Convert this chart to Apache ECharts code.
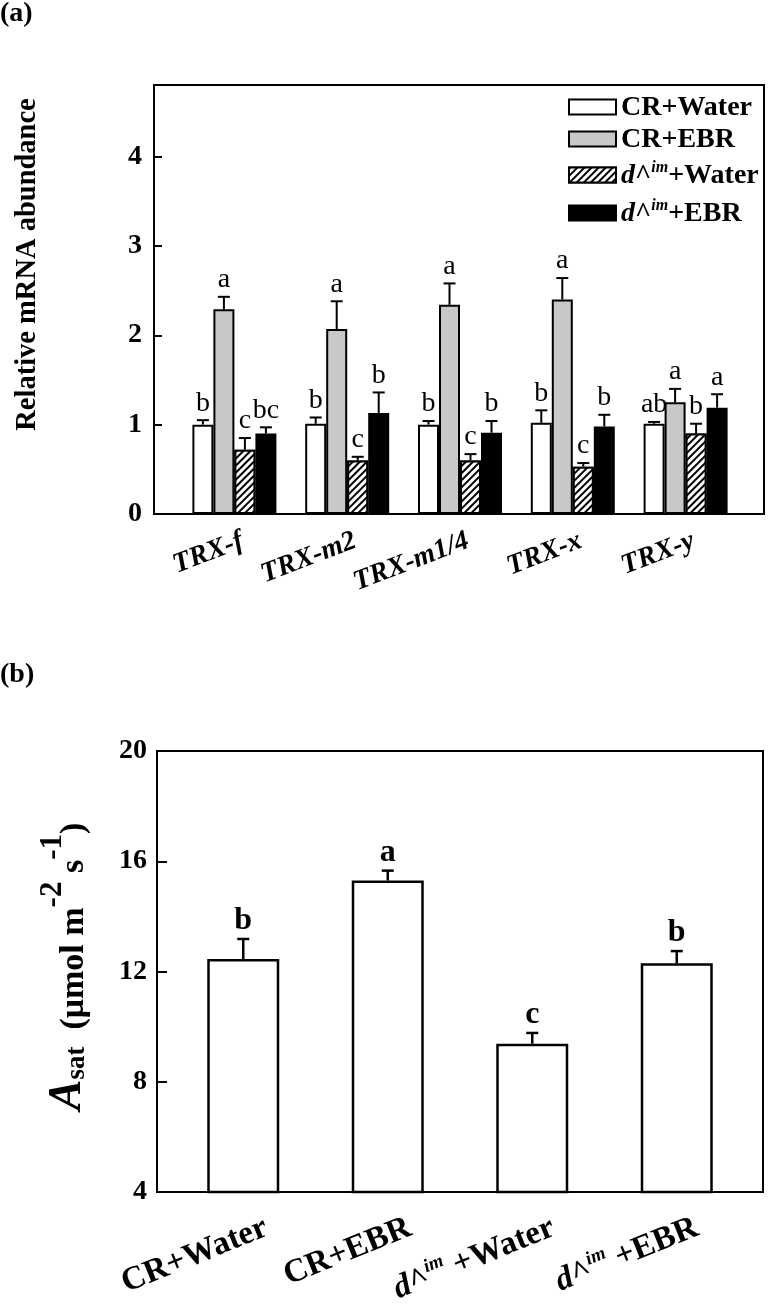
<!DOCTYPE html>
<html>
<head>
<meta charset="utf-8">
<script src="https://cdn.jsdelivr.net/npm/echarts@6/dist/echarts.min.js"></script>
<style>html,body{margin:0;padding:0;background:#fff}#c{width:768px;height:1307px}</style>
</head>
<body>
<div id="c"></div>
<script>
// ---------- Panel (a) data ----------
const catsA = ['TRX-f', 'TRX-m2', 'TRX-m1/4', 'TRX-x', 'TRX-y'];
const seriesNamesA = ['CR+Water', 'CR+EBR', 'd^im+Water', 'd^im+EBR'];
const crWaterA = [1.00, 1.01, 1.00, 1.02, 1.01];
const crWaterErrA = [0.05, 0.07, 0.04, 0.14, 0.02];
const crEbrA = [2.29, 2.07, 2.34, 2.40, 1.25];
const crEbrErrA = [0.14, 0.31, 0.24, 0.24, 0.15];
const dWaterA = [0.72, 0.60, 0.60, 0.53, 0.90];
const dWaterErrA = [0.13, 0.04, 0.07, 0.04, 0.11];
const dEbrA = [0.90, 1.13, 0.91, 0.98, 1.19];
const dEbrErrA = [0.07, 0.23, 0.13, 0.13, 0.15];
const crWaterLetA = ['b', 'b', 'b', 'b', 'ab'];
const crEbrLetA = ['a', 'a', 'a', 'a', 'a'];
const dWaterLetA = ['c', 'c', 'c', 'c', 'b'];
const dEbrLetA = ['bc', 'b', 'b', 'b', 'a'];
const yTicksA = [0, 1, 2, 3, 4];

// ---------- Panel (b) data ----------
const catsB = ['CR+Water', 'CR+EBR', 'd^im+Water', 'd^im+EBR'];
const asatB = [12.45, 15.30, 9.38, 12.30];
const asatErrB = [0.73, 0.36, 0.39, 0.44];
const asatLetB = ['b', 'a', 'c', 'b'];
const yTicksB = [4, 8, 12, 16, 20];

const SERIF = '"Liberation Serif", "Times New Roman", serif';
const BAR_W_A = 21;
const BAR_W_B = 72;

const valsA = [crWaterA, crEbrA, dWaterA, dEbrA];
const errsA = [crWaterErrA, crEbrErrA, dWaterErrA, dEbrErrA];
const letsA = [crWaterLetA, crEbrLetA, dWaterLetA, dEbrLetA];
const fillsA = ['#ffffff', '#c8c8c8', '#ffffff', '#000000'];

const hatch = {
  symbol: 'rect', symbolSize: 1, rotation: -Math.PI / 4,
  dashArrayX: [[1, 0]], dashArrayY: [2, 3],
  color: '#000', backgroundColor: '#fff'
};

function dRich(name, spaced) {
  if (name.indexOf('d^im') === 0) {
    return '{i|d}{n|^}{sup|im}{n|' + (spaced ? ' ' : '') + name.slice(4) + '}';
  }
  return '{n|' + name + '}';
}

function errRenderer(vals, errs, lets, j, nBars, barW, capW, lw, font, gap) {
  return function (params, api) {
    const i = params.dataIndex;
    const base = api.coord([i, vals[i]]);
    const top = api.coord([i, vals[i] + errs[i]]);
    const x = base[0] + (j - (nBars - 1) / 2) * barW;
    return {
      type: 'group',
      children: [
        { type: 'line', shape: { x1: x, y1: base[1], x2: x, y2: top[1] }, style: { stroke: '#000', lineWidth: lw } },
        { type: 'line', shape: { x1: x - capW / 2, y1: top[1], x2: x + capW / 2, y2: top[1] }, style: { stroke: '#000', lineWidth: lw } },
        { type: 'text', style: { text: lets[i], x: x, y: top[1] - gap, align: 'center', verticalAlign: 'bottom', font: font, fill: '#000' } }
      ]
    };
  };
}

const series = [];
for (let j = 0; j < 4; j++) {
  const st = { color: fillsA[j], borderColor: '#000', borderWidth: 2 };
  if (j === 2) st.decal = hatch;
  series.push({
    name: seriesNamesA[j], type: 'bar', xAxisIndex: 1, yAxisIndex: 1,
    data: valsA[j], barWidth: BAR_W_A, barGap: '0%', itemStyle: st,
    emphasis: { disabled: true }, z: 2
  });
}
for (let j = 0; j < 4; j++) {
  series.push({
    type: 'custom', xAxisIndex: 1, yAxisIndex: 1, z: 5,
    data: valsA[j].map((v, i) => [i, v]),
    renderItem: errRenderer(valsA[j], errsA[j], letsA[j], j, 4, BAR_W_A, 12, 2, '28px ' + SERIF, 3)
  });
}
series.push({
  name: 'Asat', type: 'bar', xAxisIndex: 3, yAxisIndex: 3, data: asatB, barWidth: BAR_W_B,
  itemStyle: { color: '#fff', borderColor: '#000', borderWidth: 2.5 }, emphasis: { disabled: true }
});
series.push({
  type: 'custom', xAxisIndex: 3, yAxisIndex: 3, z: 5,
  data: asatB.map((v, i) => [i, v]),
  renderItem: errRenderer(asatB, asatErrB, asatLetB, 0, 1, BAR_W_B, 12, 2.5, 'bold 32px ' + SERIF, 2)
});

const legRows = [94, 126, 160, 198];
const legends = seriesNamesA.map((n, k) => ({
  data: [{ name: n, icon: 'rect' }], left: 568, top: legRows[k], orient: 'vertical', padding: 0,
  itemWidth: 47, itemHeight: 15, selectedMode: false,
  formatter: (name) => dRich(name, false),
  textStyle: {
    rich: {
      n: { fontFamily: SERIF, fontWeight: 'bold', fontSize: 28, color: '#000', lineHeight: 30, verticalAlign: 'bottom' },
      i: { fontFamily: SERIF, fontWeight: 'bold', fontStyle: 'italic', fontSize: 28, color: '#000', lineHeight: 30, verticalAlign: 'bottom' },
      sup: { fontFamily: SERIF, fontWeight: 'bold', fontStyle: 'italic', fontSize: 16, color: '#000', lineHeight: 30, verticalAlign: 'top' }
    }
  }
}));

const labelRichB = {
  n: { fontFamily: SERIF, fontWeight: 'bold', fontSize: 33, color: '#000', lineHeight: 36, verticalAlign: 'bottom' },
  i: { fontFamily: SERIF, fontWeight: 'bold', fontStyle: 'italic', fontSize: 33, color: '#000', lineHeight: 36, verticalAlign: 'bottom' },
  sup: { fontFamily: SERIF, fontWeight: 'bold', fontStyle: 'italic', fontSize: 19, color: '#000', lineHeight: 36, verticalAlign: 'top' }
};

const option = {
  animation: false,
  backgroundColor: '#fff',
  title: [
    { text: '(a)', left: 0, top: 0, padding: 0, textStyle: { fontFamily: SERIF, fontWeight: 'bold', fontSize: 28, color: '#000' } },
    { text: '(b)', left: 0, top: 661, padding: 0, textStyle: { fontFamily: SERIF, fontWeight: 'bold', fontSize: 28, color: '#000' } }
  ],
  legend: legends,
  grid: [
    { left: 154, right: 4, top: 85, bottom: 793, show: true, borderColor: '#000', borderWidth: 2, backgroundColor: 'transparent' },
    { left: 178, right: 26, top: 85, bottom: 793 },
    { left: 157, right: 5, top: 751, bottom: 115, show: true, borderColor: '#000', borderWidth: 2, backgroundColor: 'transparent' },
    { left: 171, right: 19, top: 751, bottom: 115 },
    { left: 186, right: 18, top: 85, bottom: 793 },
    { left: 194, right: -4, top: 751, bottom: 115 }
  ],
  xAxis: [
    { gridIndex: 0, type: 'value', min: 0, max: 1, show: false },
    { gridIndex: 1, type: 'category', data: catsA, axisLine: { show: false }, axisTick: { show: false }, axisLabel: { show: false } },
    { gridIndex: 2, type: 'value', min: 0, max: 1, show: false },
    { gridIndex: 3, type: 'category', data: catsB, axisLine: { show: false }, axisTick: { show: false }, axisLabel: { show: false } },
    {
      gridIndex: 4, type: 'category', data: catsA,
      axisLine: { show: false }, axisTick: { show: false },
      axisLabel: { rotate: 21, margin: 26, fontFamily: SERIF, fontWeight: 'bold', fontStyle: 'italic', fontSize: 28, color: '#000', interval: 0 }
    },
    {
      gridIndex: 5, type: 'category', data: catsB,
      axisLine: { show: false }, axisTick: { show: false },
      axisLabel: { rotate: 22, margin: 36, interval: 0, formatter: (v) => dRich(v, true), rich: labelRichB }
    }
  ],
  yAxis: [
    {
      gridIndex: 0, type: 'value', min: 0, max: 4.8, interval: 1,
      name: 'Relative mRNA abundance', nameLocation: 'middle', nameGap: 112,
      nameTextStyle: { fontFamily: SERIF, fontWeight: 'bold', fontSize: 28.5, color: '#000', padding: [0, 0, 0, 70] },
      axisLine: { show: true, lineStyle: { color: '#000', width: 2 } },
      axisTick: { show: true, inside: true, length: 8, lineStyle: { color: '#000', width: 2 } },
      axisLabel: { showMaxLabel: false, margin: 12, fontFamily: SERIF, fontWeight: 'bold', fontSize: 28, color: '#000',
        formatter: (v) => yTicksA.indexOf(v) >= 0 ? String(v) : '' },
      splitLine: { show: false }
    },
    { gridIndex: 1, type: 'value', min: 0, max: 4.8, show: false, splitLine: { show: false } },
    {
      gridIndex: 2, type: 'value', min: 4, max: 20, interval: 4,
      name: '{A|A}{sub|sat}{n|  (μmol m}{sup|-2}{n| s}{sup|-1}{n|)}', nameLocation: 'middle', nameGap: 66,
      nameTextStyle: {
        padding: [0, 0, 0, 10],
        rich: {
          A: { fontFamily: SERIF, fontWeight: 'bold', fontStyle: 'italic', fontSize: 46, color: '#000', lineHeight: 54, verticalAlign: 'bottom' },
          sub: { fontFamily: SERIF, fontWeight: 'bold', fontSize: 27, color: '#000', lineHeight: 22, verticalAlign: 'bottom' },
          n: { fontFamily: SERIF, fontWeight: 'bold', fontSize: 34, color: '#000', lineHeight: 52, verticalAlign: 'bottom' },
          sup: { fontFamily: SERIF, fontWeight: 'bold', fontSize: 31, color: '#000', lineHeight: 30, verticalAlign: 'top' }
        }
      },
      axisLine: { show: true, lineStyle: { color: '#000', width: 2 } },
      axisTick: { show: true, inside: true, length: 10, lineStyle: { color: '#000', width: 2 } },
      axisLabel: { margin: 10, fontFamily: SERIF, fontWeight: 'bold', fontSize: 28, color: '#000',
        formatter: (v) => yTicksB.indexOf(v) >= 0 ? String(v) : '' },
      splitLine: { show: false }
    },
    { gridIndex: 3, type: 'value', min: 4, max: 20, show: false, splitLine: { show: false } },
    { gridIndex: 4, type: 'value', min: 0, max: 4.8, show: false, splitLine: { show: false } },
    { gridIndex: 5, type: 'value', min: 4, max: 20, show: false, splitLine: { show: false } }
  ],
  series: series
};

const chart = echarts.init(document.getElementById('c'), null, { renderer: 'canvas' });
chart.setOption(option);
</script>
</body>
</html>
